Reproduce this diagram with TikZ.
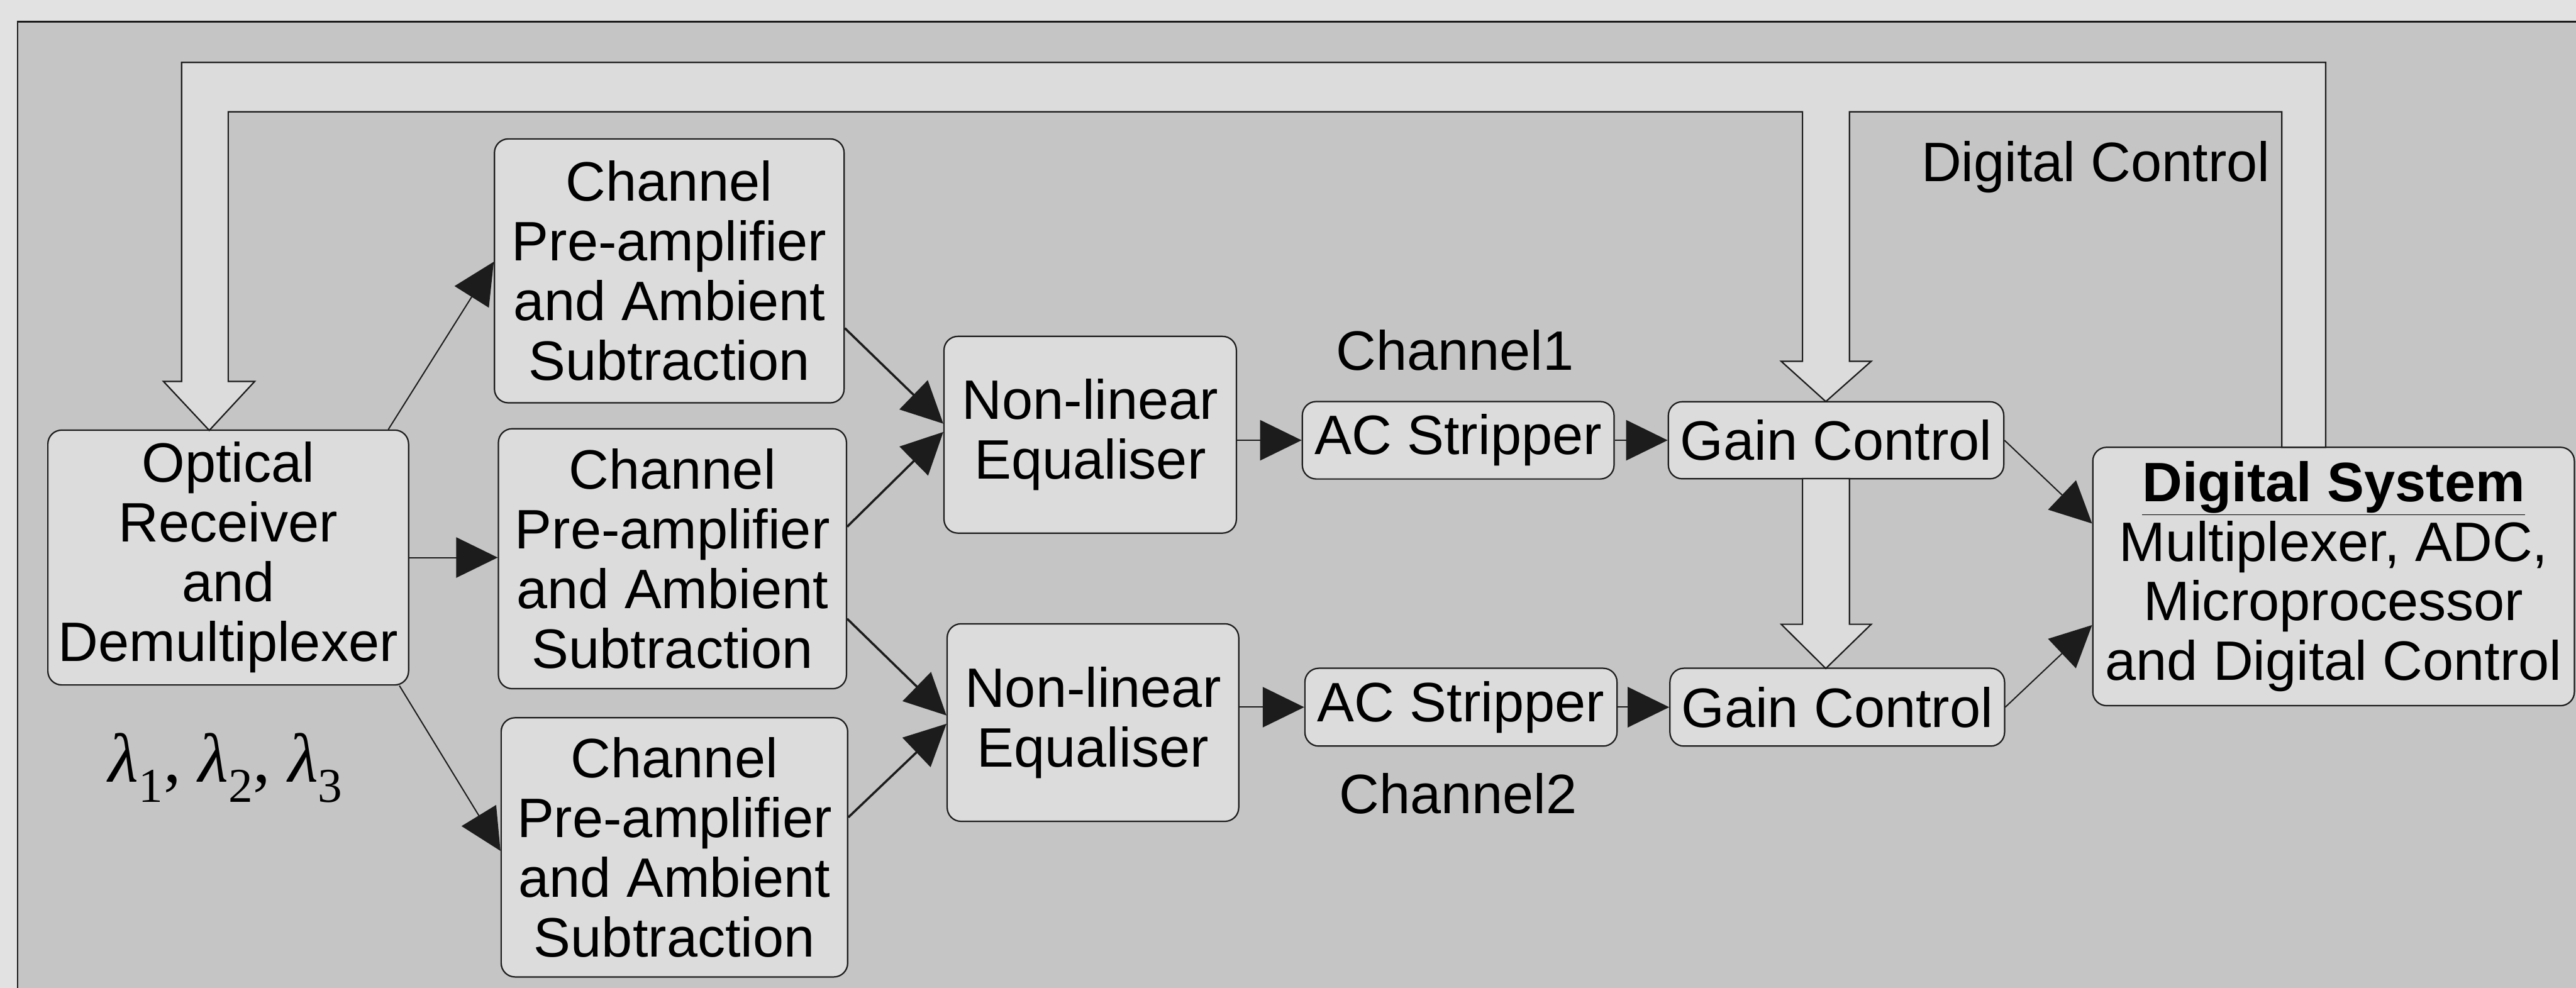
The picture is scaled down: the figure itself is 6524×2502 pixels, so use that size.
\documentclass[tikz,border=0pt]{standalone}
\usepackage{fontspec}
\setmainfont{Liberation Sans}
\newfontfamily\lamfont{Liberation Serif}
\usepackage{xcolor}
\usepackage{tikz}
\usetikzlibrary{arrows.meta}

\definecolor{pagegray}{RGB}{226,226,226}
\definecolor{hatchgray}{RGB}{197,197,197}
\definecolor{boxgray}{RGB}{220,220,220}
\definecolor{inkgray}{RGB}{28,28,28}

\newcommand{\lam}[1]{\textit{λ}\textsubscript{#1}}

\begin{document}
\begin{tikzpicture}[
    x = 0.01cm, y = -0.01cm,
    font = \fontsize{40}{43}\selectfont,
    box/.style = {
      rectangle, rounded corners = 0.35cm,
      draw = inkgray, line width = 1pt, fill = boxgray,
      inner sep = 0pt, align = center
    },
    arr/.style  = {-{Triangle[length=1.05cm, width=1.02cm]}, line width = 0.9pt, inkgray},
    arrb/.style = {arr, line width = 1.6pt},
    bus/.style  = {draw = inkgray, line width = 1pt, fill = boxgray},
    lbl/.style  = {inner sep = 0pt}
  ]
    % ── Frame ────────────────────────────────────────────────────────────────
    \fill[pagegray] (0,0) rectangle (6524,2502);
    \useasboundingbox (0,0) rectangle (6524,2502);
    \draw[inkgray, line width = 1pt, fill = hatchgray] (45,55) rectangle (6700,2700);

    % ── Nodes ────────────────────────────────────────────────────────────────
    \node[box, minimum width = 9.13cm, minimum height = 6.45cm] (opt)   at (578,1412)  {Optical\\Receiver\\and\\Demultiplexer};
    \node[box, minimum width = 8.85cm, minimum height = 6.68cm] (pre1)  at (1695,686)  {Channel\\Pre-amplifier\\and Ambient\\Subtraction};
    \node[box, minimum width = 8.81cm, minimum height = 6.58cm] (pre2)  at (1703,1415) {Channel\\Pre-amplifier\\and Ambient\\Subtraction};
    \node[box, minimum width = 8.77cm, minimum height = 6.56cm] (pre3)  at (1708,2146) {Channel\\Pre-amplifier\\and Ambient\\Subtraction};
    \node[box, minimum width = 7.40cm, minimum height = 4.98cm] (eq1)   at (2761,1101) {Non-linear\\Equaliser};
    \node[box, minimum width = 7.38cm, minimum height = 5.00cm] (eq2)   at (2768,1830) {Non-linear\\Equaliser};
    \node[box, minimum width = 7.89cm, minimum height = 1.96cm] (acs1)  at (3693,1115) {AC Stripper};
    \node[box, minimum width = 7.90cm, minimum height = 1.97cm] (acs2)  at (3700,1791) {AC Stripper};
    \node[box, minimum width = 8.49cm, minimum height = 1.95cm] (gain1) at (4650,1115) {Gain Control};
    \node[box, minimum width = 8.47cm, minimum height = 1.97cm] (gain2) at (4653,1791) {Gain Control};
    \node[box, minimum width = 12.19cm, minimum height = 6.54cm] (digsys) at (5910,1460)
      {\textbf{\underline{Digital System}}\\Multiplexer, ADC,\\Microprocessor\\and Digital Control};

    \node[lbl, anchor = base east] (dctl) at (5750,460)  {Digital Control};
    \node[lbl, anchor = base]      (ch1)  at (3685,937)  {Channel1};
    \node[lbl, anchor = base]      (ch2)  at (3693,2060) {Channel2};
    \node[lbl, anchor = base, font = \lamfont\fontsize{50}{54}\selectfont] (lam) at (572,1980)
      {\lam{1}, \lam{2}, \lam{3}};

    % ── Control bus ──────────────────────────────────────────────────────────
    \draw[bus] (5779,1133) -- (5779,283) -- (4684,283) -- (4684,915) -- (4739,915)
      -- (4624,1017) -- (4511,915) -- (4565,915) -- (4565,283) -- (578,283)
      -- (578,966) -- (645,966) -- (530,1090) -- (414,966) -- (460,966)
      -- (460,158) -- (5890,158) -- (5890,1133) -- cycle;
    \draw[bus] (4565,1212) -- (4565,1581) -- (4511,1581) -- (4624,1693)
      -- (4739,1581) -- (4684,1581) -- (4684,1212) -- cycle;

    % ── Arrows ───────────────────────────────────────────────────────────────
    \draw[arr]  ([xshift=-0.53cm]opt.north east) -- ([yshift=0.23cm]pre1.west);
    \draw[arr]  (opt.east) -- (opt.east -| pre2.west);
    \draw[arr]  ([xshift=-0.25cm]opt.south east) -- ([yshift=-0.09cm]pre3.west);
    \draw[arrb] ([yshift=-1.45cm]pre1.east) -- ([yshift=0.28cm]eq1.west);
    \draw[arrb] ([yshift=0.81cm]pre2.east)  -- ([yshift=0.07cm]eq1.west);
    \draw[arrb] ([yshift=-1.52cm]pre2.east) -- ([yshift=0.18cm]eq2.west);
    \draw[arrb] ([yshift=0.76cm]pre3.east)  -- ([yshift=-0.03cm]eq2.west);
    \draw[arr]  (eq1.east |- acs1.west) -- (acs1.west);
    \draw[arr]  (eq2.east |- acs2.west) -- (acs2.west);
    \draw[arr]  (acs1.east) -- (gain1.west);
    \draw[arr]  (acs2.east) -- (gain2.west);
    \draw[arr]  (gain1.east) -- ([yshift=1.34cm]digsys.west);
    \draw[arr]  (gain2.east) -- ([yshift=-1.23cm]digsys.west);
  \end{tikzpicture}
\end{document}
